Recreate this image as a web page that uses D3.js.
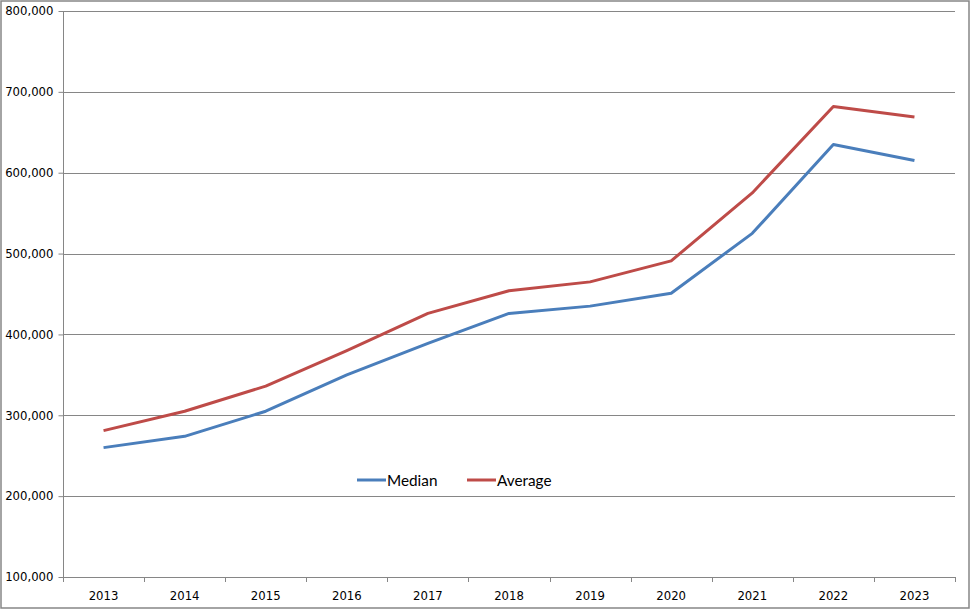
<!DOCTYPE html>
<html><head><meta charset="utf-8">
<script src="https://cdn.jsdelivr.net/npm/d3@7"></script>
<style>body{margin:0;background:#fff}svg{display:block}</style>
</head><body>
<script>
const years = ["2013","2014","2015","2016","2017","2018","2019","2020","2021","2022","2023"];
const median = [260000,274000,305000,350000,389000,426000,435000,451000,525000,635000,615000];
const average = [281000,305000,336000,380000,426000,454000,465000,491000,575000,682000,669000];
const yTicks = [100000,200000,300000,400000,500000,600000,700000,800000];
const seriesNames = ["Median","Average"];
const colors = ["#4a7ebb","#be4b48"];

const W=971,H=610;
const svg=d3.select("body").append("svg").attr("width",W).attr("height",H);
svg.append("rect").attr("x",1).attr("y",1).attr("width",W-3).attr("height",H-3)
  .attr("fill","#fff").attr("stroke","#868686").attr("stroke-width",1.5);

const L=63,R=955,T=11,B=577;
const x=d3.scaleBand().domain(years).range([L,R]);
const y=d3.scaleLinear().domain([100000,800000]).range([B,T]);

svg.append("g").selectAll("line").data(yTicks.slice(1)).join("line")
  .attr("x1",L).attr("x2",R).attr("y1",d=>Math.round(y(d))+0.5).attr("y2",d=>Math.round(y(d))+0.5)
  .attr("stroke","#868686").attr("stroke-width",1);

const ya=svg.append("g").attr("transform",`translate(${L+0.5},0)`)
  .call(d3.axisLeft(y).tickValues(yTicks).tickSize(5).tickPadding(5).tickFormat(d3.format(",")));
ya.select(".domain").attr("stroke","#868686").attr("d",`M0,${T}V${B}`);
ya.selectAll(".tick line").attr("stroke","#868686");
ya.selectAll("text").attr("font-family","DejaVu Sans, Verdana, sans-serif").attr("font-size",11.7).attr("fill","#000");

const xa=svg.append("g").attr("transform",`translate(0,${B+0.5})`)
  .call(d3.axisBottom(x).tickSize(0).tickPadding(14));
xa.select(".domain").attr("stroke","#868686").attr("d",`M${L},0H${R}`);
xa.selectAll("text").attr("font-family","DejaVu Sans, Verdana, sans-serif").attr("font-size",11.7).attr("fill","#000");
const bounds=years.map(d=>x(d)+x.bandwidth()).concat([L]);
svg.append("g").selectAll("line").data(bounds).join("line")
  .attr("x1",d=>Math.round(d)+0.5).attr("x2",d=>Math.round(d)+0.5).attr("y1",B).attr("y2",B+5)
  .attr("stroke","#868686");

const line=d3.line().x((d,i)=>x(years[i])+x.bandwidth()/2).y(d=>y(d));
[median,average].forEach((s,i)=>{
  svg.append("path").datum(s).attr("d",line).attr("fill","none")
    .attr("stroke",colors[i]).attr("stroke-width",3).attr("stroke-linejoin","round");
});

const lg=svg.append("g").attr("font-family","Lato, 'Open Sans', sans-serif").attr("font-size",15.3);
const lx=[357,467];
seriesNames.forEach((n,i)=>{
  lg.append("line").attr("x1",lx[i]).attr("x2",lx[i]+29).attr("y1",480).attr("y2",480)
    .attr("stroke",colors[i]).attr("stroke-width",3);
  lg.append("text").attr("x",lx[i]+30).attr("y",485.5).text(n).attr("fill","#000");
});
</script>
</body></html>
